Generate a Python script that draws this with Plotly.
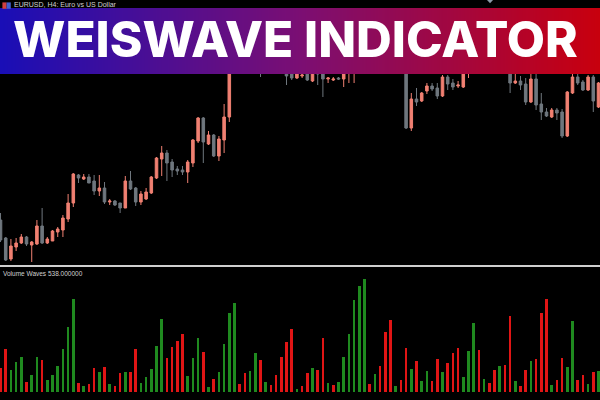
import plotly.graph_objects as go

bar_index = list(range(116))

opens = [1.1080, 1.1062, 1.1041, 1.1053, 1.1057, 1.1063, 1.1055, 1.1056, 1.1074, 1.1057,
         1.1059, 1.1068, 1.1070, 1.1081, 1.1097, 1.1125, 1.1121, 1.1123, 1.1119, 1.1109,
         1.1112, 1.1098, 1.1099, 1.1097, 1.1092, 1.1119, 1.1112, 1.1098, 1.1101, 1.1107,
         1.1122, 1.1141, 1.1147, 1.1138, 1.1131, 1.1130, 1.1128, 1.1137, 1.1159, 1.1182,
         1.1156, 1.1165, 1.1144, 1.1160, 1.1183, 1.1242, 1.1234, 1.1240, 1.1237, 1.1247,
         1.1240, 1.1234, 1.1238, 1.1233, 1.1236, 1.1230, 1.1227, 1.1222, 1.1224, 1.1226,
         1.1219, 1.1234, 1.1226, 1.1221, 1.1220, 1.1222, 1.1221, 1.1227, 1.1238, 1.1248,
         1.1242, 1.1260, 1.1252, 1.1275, 1.1288, 1.1270, 1.1255, 1.1245, 1.1240, 1.1172,
         1.1201, 1.1199, 1.1209, 1.1214, 1.1212, 1.1204, 1.1223, 1.1217, 1.1214, 1.1213,
         1.1227, 1.1238, 1.1252, 1.1245, 1.1252, 1.1245, 1.1242, 1.1248, 1.1236, 1.1217,
         1.1219, 1.1216, 1.1198, 1.1221, 1.1196, 1.1188, 1.1183, 1.1190, 1.1188, 1.1164,
         1.1207, 1.1223, 1.1218, 1.1210, 1.1223, 1.1193]

highs = [1.1087, 1.1063, 1.1061, 1.1062, 1.1066, 1.1064, 1.1059, 1.1080, 1.1092, 1.1063,
         1.1070, 1.1073, 1.1085, 1.1106, 1.1127, 1.1126, 1.1126, 1.1126, 1.1125, 1.1125,
         1.1118, 1.1101, 1.1100, 1.1097, 1.1124, 1.1129, 1.1113, 1.1109, 1.1112, 1.1124,
         1.1143, 1.1154, 1.1150, 1.1141, 1.1134, 1.1134, 1.1140, 1.1161, 1.1183, 1.1183,
         1.1169, 1.1166, 1.1164, 1.1196, 1.1245, 1.1245, 1.1243, 1.1244, 1.1250, 1.1249,
         1.1242, 1.1241, 1.1240, 1.1239, 1.1238, 1.1234, 1.1230, 1.1228, 1.1228, 1.1228,
         1.1237, 1.1237, 1.1227, 1.1223, 1.1223, 1.1223, 1.1229, 1.1243, 1.1250, 1.1252,
         1.1265, 1.1264, 1.1280, 1.1292, 1.1290, 1.1272, 1.1258, 1.1248, 1.1245, 1.1207,
         1.1212, 1.1208, 1.1217, 1.1217, 1.1217, 1.1225, 1.1225, 1.1221, 1.1219, 1.1242,
         1.1245, 1.1255, 1.1255, 1.1256, 1.1254, 1.1250, 1.1251, 1.1252, 1.1240, 1.1227,
         1.1224, 1.1222, 1.1226, 1.1240, 1.1207, 1.1192, 1.1192, 1.1192, 1.1191, 1.1209,
         1.1232, 1.1226, 1.1220, 1.1225, 1.1225, 1.1218]

lows = [1.1058, 1.1039, 1.1039, 1.1049, 1.1056, 1.1054, 1.1038, 1.1055, 1.1056, 1.1056,
        1.1059, 1.1063, 1.1063, 1.1078, 1.1093, 1.1117, 1.1120, 1.1117, 1.1105, 1.1104,
        1.1096, 1.1095, 1.1094, 1.1087, 1.1092, 1.1110, 1.1094, 1.1095, 1.1100, 1.1106,
        1.1121, 1.1124, 1.1119, 1.1123, 1.1125, 1.1125, 1.1117, 1.1133, 1.1157, 1.1137,
        1.1155, 1.1143, 1.1139, 1.1147, 1.1178, 1.1230, 1.1232, 1.1234, 1.1235, 1.1237,
        1.1223, 1.1232, 1.1230, 1.1230, 1.1227, 1.1215, 1.1220, 1.1221, 1.1222, 1.1219,
        1.1218, 1.1215, 1.1203, 1.1217, 1.1219, 1.1220, 1.1213, 1.1217, 1.1217, 1.1238,
        1.1240, 1.1248, 1.1250, 1.1272, 1.1260, 1.1250, 1.1242, 1.1235, 1.1171, 1.1169,
        1.1194, 1.1198, 1.1206, 1.1209, 1.1201, 1.1203, 1.1210, 1.1210, 1.1212, 1.1212,
        1.1222, 1.1236, 1.1240, 1.1243, 1.1242, 1.1240, 1.1240, 1.1230, 1.1207, 1.1216,
        1.1210, 1.1195, 1.1197, 1.1190, 1.1180, 1.1183, 1.1182, 1.1180, 1.1162, 1.1163,
        1.1206, 1.1215, 1.1209, 1.1209, 1.1188, 1.1192]

closes = [1.1060, 1.1040, 1.1054, 1.1057, 1.1063, 1.1056, 1.1058, 1.1074, 1.1057, 1.1061,
          1.1069, 1.1071, 1.1082, 1.1097, 1.1126, 1.1122, 1.1123, 1.1117, 1.1109, 1.1112,
          1.1098, 1.1099, 1.1095, 1.1092, 1.1119, 1.1111, 1.1098, 1.1106, 1.1108, 1.1123,
          1.1142, 1.1147, 1.1137, 1.1130, 1.1129, 1.1128, 1.1138, 1.1160, 1.1182, 1.1158,
          1.1165, 1.1144, 1.1161, 1.1183, 1.1242, 1.1234, 1.1240, 1.1236, 1.1247, 1.1240,
          1.1234, 1.1238, 1.1233, 1.1236, 1.1230, 1.1224, 1.1222, 1.1226, 1.1225, 1.1220,
          1.1234, 1.1226, 1.1221, 1.1222, 1.1221, 1.1221, 1.1227, 1.1240, 1.1248, 1.1242,
          1.1260, 1.1252, 1.1275, 1.1288, 1.1270, 1.1255, 1.1245, 1.1240, 1.1172, 1.1201,
          1.1198, 1.1207, 1.1214, 1.1211, 1.1204, 1.1223, 1.1216, 1.1213, 1.1215, 1.1240,
          1.1240, 1.1252, 1.1245, 1.1253, 1.1245, 1.1242, 1.1248, 1.1237, 1.1217, 1.1219,
          1.1215, 1.1198, 1.1221, 1.1195, 1.1188, 1.1184, 1.1190, 1.1187, 1.1164, 1.1208,
          1.1223, 1.1217, 1.1210, 1.1223, 1.1199, 1.1217]

wave_volume = [634, 1128, 564, 780, 902, 252, 434, 902, 832, 304,
               452, 686, 1128, 1690, 2428, 234, 156, 208, 634, 520,
               650, 200, 166, 494, 520, 520, 1128, 226, 390, 608,
               1196, 1890, 894, 1162, 1318, 1508, 408, 876, 1404, 1040,
               130, 330, 520, 1240, 2054, 2314, 200, 486, 538, 1006,
               832, 252, 174, 434, 902, 1308, 1646, 70, 148, 486,
               632, 572, 1396, 226, 174, 252, 902, 1500, 2384, 2756,
               2930, 200, 476, 684, 1552, 1864, 156, 304, 1136, 590,
               798, 294, 538, 278, 850, 528, 746, 1006, 1152, 398,
               1066, 1794, 1084, 330, 226, 580, 668, 694, 1984, 294,
               156, 580, 798, 850, 2046, 2410, 174, 304, 876, 642,
               1838, 304, 442, 200, 512, 538]

wave_dir = list("RRGGGRGGRGGGGGGRGRRGRGRRGRRGGGGGRRRRGGG"
                "RGRGGGGRRGGRGRRRRRGRRGRRGRGGGGGGRGRRRG"
                "RRGRGGRRGRRRGGGRGRRGRRGRRGRRRGRRGGRRGRG")

title_text = "WEISWAVE INDICATOR"
symbol_text = "EURUSD, H4: Euro vs US Dollar"
indicator_label = "Volume Waves 538.000000"

BULL = "#f08072"
BEAR = "#6f777e"
GREEN = "#1f8a1f"
RED = "#e01515"

fig = go.Figure()

fig.add_trace(go.Candlestick(
    x=bar_index, open=opens, high=highs, low=lows, close=closes,
    increasing=dict(line=dict(color=BULL, width=1), fillcolor=BULL),
    decreasing=dict(line=dict(color=BEAR, width=1), fillcolor=BEAR),
    whiskerwidth=0, xaxis="x", yaxis="y", showlegend=False, hoverinfo="skip",
))

fig.add_trace(go.Bar(
    x=bar_index, y=wave_volume,
    marker=dict(color=[GREEN if d == "G" else RED for d in wave_dir], line=dict(width=0)),
    width=0.5, xaxis="x", yaxis="y2", showlegend=False, hoverinfo="skip",
))

# gradient banner
fig.add_trace(go.Heatmap(
    z=[[0, 1]], x=[0, 1], y=[0], zsmooth="best",
    colorscale=[[0, "#1c10c4"], [0.5, "#85107c"], [1, "#d8000f"]],
    showscale=False, opacity=0.93, xaxis="x3", yaxis="y3", hoverinfo="skip",
))

fig.update_layout(
    width=600, height=400,
    margin=dict(l=0, r=0, t=0, b=0),
    paper_bgcolor="#000000", plot_bgcolor="#000000",
    showlegend=False,
    bargap=0,
    xaxis=dict(range=[-0.1, 115.29], visible=False, rangeslider=dict(visible=False),
               domain=[0, 1], anchor="y"),
    yaxis=dict(range=[1.1035, 1.1300], domain=[0.3375, 1], visible=False),
    yaxis2=dict(range=[0, 3224], domain=[0.02, 0.33], visible=False, anchor="x"),
    xaxis3=dict(range=[0, 1], domain=[0, 1], visible=False, anchor="y3"),
    yaxis3=dict(range=[-0.5, 0.5], domain=[0.815, 0.98], visible=False, anchor="x3"),
    shapes=[
        dict(type="line", xref="paper", yref="paper", x0=0, x1=1, y0=0.335, y1=0.335,
             line=dict(color="#cfcfcf", width=2)),
        # small terminal icon and time marker
        dict(type="rect", xref="paper", yref="paper", x0=0.004, x1=0.011, y0=0.978, y1=0.994,
             fillcolor="#d04040", line=dict(width=0)),
        dict(type="rect", xref="paper", yref="paper", x0=0.011, x1=0.018, y0=0.978, y1=0.994,
             fillcolor="#4060d0", line=dict(width=0)),
        dict(type="path", xref="paper", yref="paper",
             path="M 0.8117 1 L 0.8217 1 L 0.8167 0.992 Z",
             fillcolor="#8a9aa8", line=dict(width=0)),
    ],
    annotations=[
        dict(text=title_text, xref="paper", yref="paper", x=0.493, y=0.9025,
             xanchor="center", yanchor="middle", showarrow=False, borderpad=0,
             font=dict(family="Inter", size=49.5, color="#ffffff", weight=800)),
        dict(text=symbol_text, xref="paper", yref="paper", x=0.022, y=1.0,
             xanchor="left", yanchor="top", showarrow=False, borderpad=0,
             font=dict(family="Liberation Sans", size=7, color="#d0d0d0")),
        dict(text=indicator_label, xref="paper", yref="paper", x=0.003, y=0.316,
             xanchor="left", yanchor="middle", showarrow=False, borderpad=0,
             font=dict(family="Liberation Sans", size=6.5, color="#d0d0d0")),
    ],
)

fig.write_html("out.html", config={"displayModeBar": False},
               post_script="document.body.style.margin='0';")
